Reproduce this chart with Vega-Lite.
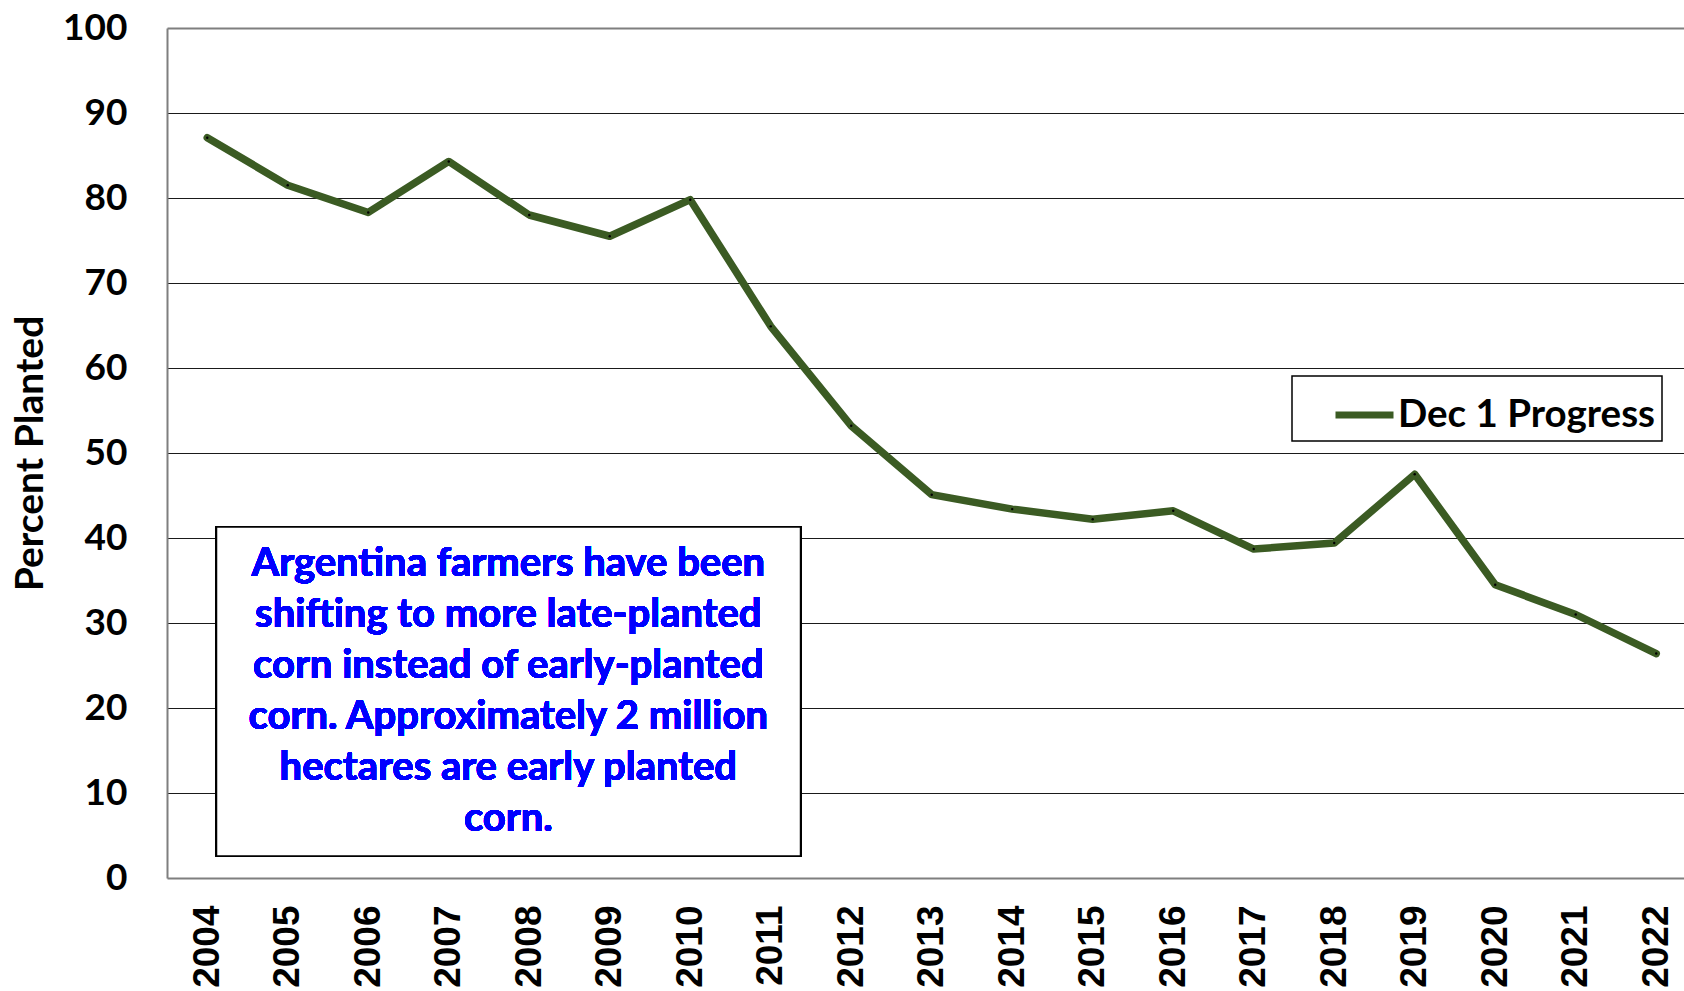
{
  "$schema": "https://vega.github.io/schema/vega-lite/v6.json",
  "autosize": {"type": "none"},
  "padding": {"left": 167, "top": 28, "right": 0, "bottom": 113},
  "width": 1517,
  "height": 850,
  "background": "white",
  "config": {"view": {"stroke": null}, "legend": {"strokeWidth": 1.5}},
  "data": {"values": [
    {"year": 2004, "pct": 87.1},
    {"year": 2005, "pct": 81.5},
    {"year": 2006, "pct": 78.3},
    {"year": 2007, "pct": 84.3},
    {"year": 2008, "pct": 78.0},
    {"year": 2009, "pct": 75.5},
    {"year": 2010, "pct": 79.8},
    {"year": 2011, "pct": 64.9},
    {"year": 2012, "pct": 53.2},
    {"year": 2013, "pct": 45.1},
    {"year": 2014, "pct": 43.4},
    {"year": 2015, "pct": 42.2},
    {"year": 2016, "pct": 43.2},
    {"year": 2017, "pct": 38.7},
    {"year": 2018, "pct": 39.4},
    {"year": 2019, "pct": 47.5},
    {"year": 2020, "pct": 34.5},
    {"year": 2021, "pct": 31.0},
    {"year": 2022, "pct": 26.4}
  ]},
  "layer": [
    {
      "mark": {"type": "line", "strokeWidth": 7.5, "strokeJoin": "round", "strokeCap": "round"},
      "encoding": {
        "x": {
          "field": "year", "type": "quantitative",
          "scale": {"domain": [2003.5, 2022.345], "nice": false, "zero": false},
          "axis": {
            "values": [2004,2005,2006,2007,2008,2009,2010,2011,2012,2013,2014,2015,2016,2017,2018,2019,2020,2021,2022],
            "format": "d", "title": null, "grid": false, "ticks": false,
            "domain": true, "domainColor": "#7f7f7f", "domainWidth": 2,
            "labelAngle": -90, "labelFont": "Liberation Sans", "labelFontWeight": "bold",
            "labelFontSize": 37, "labelColor": "black", "labelPadding": 27,
            "labelOverlap": false, "labelBound": false, "labelFlush": false
          }
        },
        "y": {
          "field": "pct", "type": "quantitative",
          "scale": {"domain": [0, 100], "nice": false},
          "axis": {
            "values": [0,10,20,30,40,50,60,70,80,90,100],
            "title": "Percent Planted", "titleFont": "Lato", "titleFontWeight": "bold",
            "titleFontSize": 39, "titleColor": "black", "titlePadding": 12,
            "labelFont": "Lato", "labelFontWeight": "bold", "labelFontSize": 37,
            "labelColor": "black", "labelPadding": 40, "ticks": false,
            "domain": true, "domainColor": "#7f7f7f", "domainWidth": 2,
            "grid": true,
            "gridColor": {"condition": {"test": "datum.value === 100", "value": "#7f7f7f"}, "value": "#1a1a1a"},
            "gridWidth": {"condition": {"test": "datum.value === 100", "value": 2}, "value": 1},
            "gridOpacity": {"condition": {"test": "datum.value === 0", "value": 0}, "value": 1},
            "labelOverlap": false, "labelBound": false, "labelFlush": false
          }
        },
        "color": {
          "datum": "Dec 1 Progress", "type": "nominal",
          "scale": {"range": ["#3b5b23"]},
          "legend": {
            "title": null, "orient": "none", "legendX": 1125, "legendY": 348,
            "fillColor": "white", "strokeColor": "black",
            "padding": 6.5, "symbolType": "stroke", "symbolSize": 3364,
            "symbolStrokeWidth": 7, "symbolOffset": 33.5, "labelOffset": 1,
            "labelFont": "Lato", "labelFontWeight": "bold", "labelFontSize": 38.5,
            "labelColor": "black", "labelLimit": 0,
            "labelExpr": "datum.label + '\u00a0\u00a0\u00a0\u00a0\u00a0\u00a0\u00a0\u00a0'"
          }
        }
      }
    },
    {
      "mark": {"type": "point", "filled": true, "size": 6, "color": "black", "opacity": 1},
      "encoding": {
        "x": {"field": "year", "type": "quantitative"},
        "y": {"field": "pct", "type": "quantitative"}
      }
    },
    {
      "mark": {"type": "rect", "fill": "white", "stroke": "black", "strokeWidth": 1.5},
      "encoding": {
        "x": {"datum": 2004.115, "type": "quantitative"},
        "x2": {"datum": 2011.37},
        "y": {"datum": 41.3, "type": "quantitative"},
        "y2": {"datum": 2.6}
      }
    },
    {
      "mark": {
        "type": "text", "font": "Lato", "fontWeight": "bold", "fontSize": 40,
        "color": "#0000ff", "align": "center", "baseline": "middle", "lineHeight": 51
      },
      "encoding": {
        "x": {"datum": 2007.74, "type": "quantitative"},
        "y": {"datum": 36.9, "type": "quantitative"},
        "text": {"value": [
          "Argentina farmers have been",
          "shifting to more late-planted",
          "corn instead of early-planted",
          "corn. Approximately 2 million",
          "hectares are early planted",
          "corn."
        ]}
      }
    }
  ]
}
